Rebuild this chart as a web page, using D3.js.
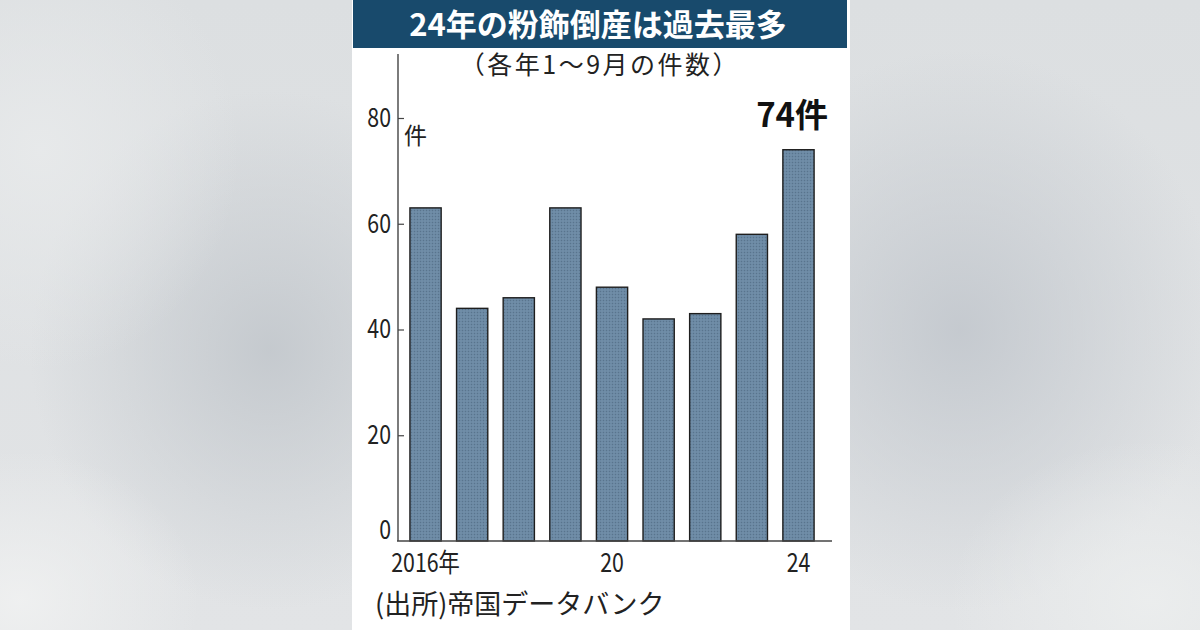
<!DOCTYPE html>
<html>
<head>
<meta charset="utf-8">
<script src="https://cdn.jsdelivr.net/npm/d3@7"></script>
<style>
  html, body { margin: 0; padding: 0; }
  body { width: 1200px; height: 630px; overflow: hidden; }
  text { font-family: "Noto Sans CJK JP", "Noto Sans", sans-serif; }
</style>
</head>
<body>
<div id="chart"></div>
<script>
// data
const years = ["2016", "2017", "2018", "2019", "2020", "2021", "2022", "2023", "2024"];
const counts = [63, 44, 46, 63, 48, 42, 43, 58, 74];
const yTicks = [0, 20, 40, 60, 80];
const xLabels = { "2016": "2016年", "2020": "20", "2024": "24" };

const W = 1200, H = 630;
const svg = d3.select("#chart").append("svg")
    .attr("width", W)
    .attr("height", H)
    .attr("viewBox", [0, 0, W, H]);

// blurred grey backdrop
const defs = svg.append("defs");
const bgGrad = defs.append("linearGradient")
    .attr("id", "bg")
    .attr("x1", 0).attr("y1", 0).attr("x2", 0).attr("y2", 1);
bgGrad.append("stop").attr("offset", "0%").attr("stop-color", "#dcdfe1");
bgGrad.append("stop").attr("offset", "100%").attr("stop-color", "#e2e4e6");
svg.append("rect").attr("width", W).attr("height", H).attr("fill", "url(#bg)");

function blob(id, cx, cy, rx, ry, col) {
  const g = defs.append("radialGradient").attr("id", id);
  g.append("stop").attr("offset", "0%").attr("stop-color", col).attr("stop-opacity", 0.9);
  g.append("stop").attr("offset", "100%").attr("stop-color", col).attr("stop-opacity", 0);
  svg.append("ellipse")
      .attr("cx", cx).attr("cy", cy).attr("rx", rx).attr("ry", ry)
      .attr("fill", `url(#${id})`);
}
blob("b1", 270, 350, 240, 260, "#c2c7cc");
blob("b2", 960, 330, 260, 280, "#c2c7cd");
blob("b3", 40, 150, 200, 220, "#e8eaeb");
blob("b4", 1150, 600, 200, 160, "#eceeee");
blob("b5", 20, 600, 180, 150, "#f0f1f1");

// stipple pattern for the bars
const pat = defs.append("pattern")
    .attr("id", "dots")
    .attr("width", 3).attr("height", 3)
    .attr("patternUnits", "userSpaceOnUse");
pat.append("rect").attr("width", 3).attr("height", 3).attr("fill", "#6a88a3");
pat.append("rect").attr("x", 0).attr("y", 0).attr("width", 1).attr("height", 1).attr("fill", "#5a748c");
pat.append("rect").attr("x", 1.5).attr("y", 1.5).attr("width", 1).attr("height", 1).attr("fill", "#809bb2");

// white card and title band
svg.append("rect")
    .attr("x", 352).attr("y", 0)
    .attr("width", 498).attr("height", H)
    .attr("fill", "#ffffff");
svg.append("rect")
    .attr("x", 353).attr("y", 0)
    .attr("width", 494).attr("height", 48)
    .attr("fill", "#184a6c");
svg.append("text")
    .attr("x", 598).attr("y", 36)
    .attr("text-anchor", "middle")
    .attr("fill", "#ffffff")
    .attr("font-size", 31)
    .attr("font-weight", "bold")
    .text("24年の粉飾倒産は過去最多");
svg.append("text")
    .attr("x", 600).attr("y", 74)
    .attr("text-anchor", "middle")
    .attr("fill", "#222")
    .attr("font-size", 25)
    .attr("letter-spacing", 2.5)
    .text("（各年1〜9月の件数）");

// scales
const x = d3.scaleBand()
    .domain(years)
    .range([398, 832])
    .paddingInner(0.33)
    .paddingOuter(0.32)
    .align(0.4);

const y = d3.scaleLinear()
    .domain([0, 80])
    .range([541, 118]);

// bars
svg.append("g")
  .selectAll("rect")
  .data(counts)
  .join("rect")
    .attr("x", (d, i) => x(years[i]))
    .attr("y", d => y(d))
    .attr("width", x.bandwidth())
    .attr("height", d => y(0) - y(d))
    .attr("fill", "url(#dots)")
    .attr("stroke", "#1e1e1e")
    .attr("stroke-width", 1.4);

// y axis, ticks point inwards
const yAxis = svg.append("g")
    .attr("transform", "translate(398,0)")
    .call(d3.axisRight(y).tickValues(yTicks).tickSize(6).tickFormat(""));
yAxis.select(".domain").remove();
yAxis.selectAll("line").attr("stroke", "#444").attr("stroke-width", 1.2);
yAxis.selectAll(".tick").filter(d => d === 0).remove();

svg.append("line")
    .attr("x1", 398).attr("x2", 398)
    .attr("y1", 54).attr("y2", y(0))
    .attr("stroke", "#444").attr("stroke-width", 1.4);
svg.append("line")
    .attr("x1", 397).attr("x2", 832)
    .attr("y1", y(0)).attr("y2", y(0))
    .attr("stroke", "#444").attr("stroke-width", 1.4);

svg.append("g")
  .selectAll("text")
  .data(yTicks)
  .join("text")
    .attr("x", 391)
    .attr("y", d => y(d) + (d === 0 ? -2 : 9))
    .attr("text-anchor", "end")
    .attr("fill", "#222")
    .attr("font-size", 26)
    .attr("transform", `translate(${391 * 0.18},0) scale(0.82,1)`)
    .text(d => d);

svg.append("text")
    .attr("x", 404).attr("y", 144)
    .attr("fill", "#222")
    .attr("font-size", 23)
    .text("件");

// x labels
svg.append("g")
  .selectAll("text")
  .data(years.filter(d => xLabels[d]))
  .join("text")
    .attr("x", d => x(d) + x.bandwidth() / 2)
    .attr("y", 572)
    .attr("text-anchor", "middle")
    .attr("fill", "#222")
    .attr("font-size", 26)
    .attr("transform", d => `translate(${(x(d) + x.bandwidth() / 2) * 0.18},0) scale(0.82,1)`)
    .text(d => xLabels[d]);

// highlight of the latest value
svg.append("text")
    .attr("x", x("2024") + x.bandwidth() + 14)
    .attr("y", 127)
    .attr("text-anchor", "end")
    .attr("fill", "#111")
    .attr("font-size", 33)
    .attr("font-weight", "bold")
    .text(counts[counts.length - 1] + "件");

// source
svg.append("text")
    .attr("x", 375).attr("y", 614)
    .attr("fill", "#222")
    .attr("font-size", 27)
    .text("(出所)帝国データバンク");
</script>
</body>
</html>
